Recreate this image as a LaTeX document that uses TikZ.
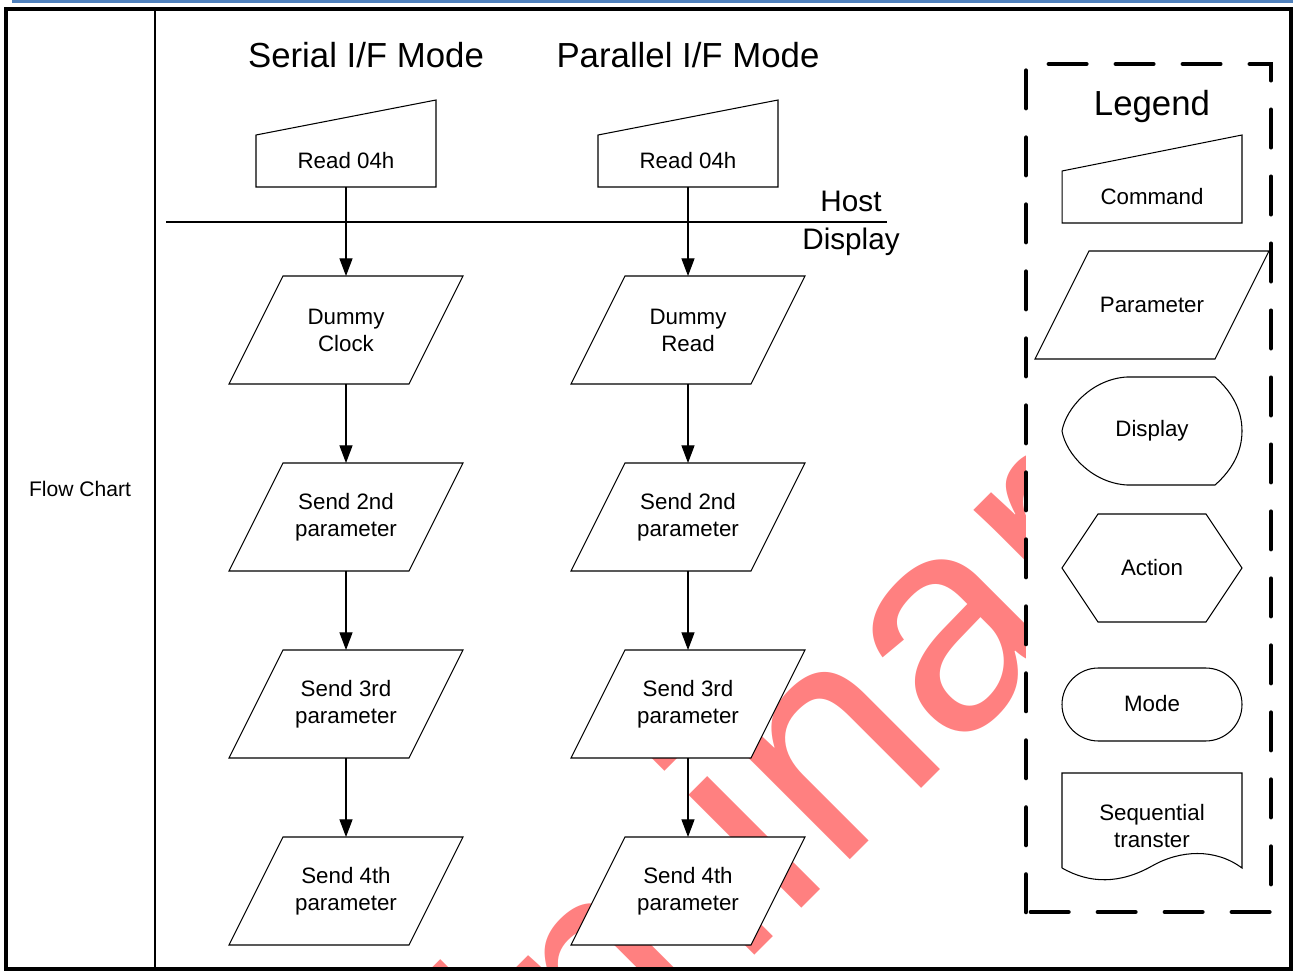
\documentclass[tikz,border=0pt]{standalone}
\usepackage{fontspec}
\setmainfont{Liberation Sans}
\usetikzlibrary{arrows.meta,backgrounds}

\definecolor{topblue}{RGB}{79,129,189}
\definecolor{markpink}{RGB}{255,128,128}

\newcommand{\boxfont}{\fontsize{12.7}{15.3}\selectfont}
\newcommand{\titlefont}{\fontsize{19.8}{24}\selectfont}
\newcommand{\sidefont}{\fontsize{16.9}{20}\selectfont}
\newcommand{\markfont}{\fontsize{172}{172}\selectfont}

\begin{document}
\begin{tikzpicture}[x=0.02cm,y=-0.02cm,
  thin line/.style={line width=0.6pt},
  parbox/.style={minimum width=3.6cm, minimum height=2.16cm,
    inner sep=0pt, outer sep=0pt, align=center, font=\boxfont},
  cmdbox/.style={minimum width=3.6cm, minimum height=1.04cm,
    inner sep=0pt, outer sep=0pt, font=\boxfont},
  flow/.style={thin line, -{Triangle[length=10pt,width=7.4pt]}},
  legendbox/.style={line width=2.6pt, line cap=round, fill=white,
    dash pattern=on 0.75cm off 0.59cm}]

\useasboundingbox (0,0) rectangle (1295,972);

% watermark behind everything
\begin{scope}[on background layer]
\clip (155,9) rectangle (1291,969);
\node[text=markpink, font=\markfont, rotate=45, anchor=base west,
  inner sep=0pt] (mark) at (182,1528) {Preliminary};
\end{scope}

% page frame
\draw[line width=1.7pt, topblue] (12,1.5) -- (1293,1.5);
\draw[line width=2.2pt] (6,9) rectangle (1291,969);
\draw[line width=1.1pt] (155,9) -- (155,969);

\node[font=\fontsize{12}{14}\selectfont] (side) at (80,489) {Flow Chart};

% titles
\node[font=\titlefont] (sertitle) at (366,55) {Serial I/F Mode};
\node[font=\titlefont] (partitle) at (688,55) {Parallel I/F Mode};

% Host / Display border
\draw[thin line] (166,222) -- (887,222);
\node[font=\sidefont] (host) at (851,201) {Host};
\node[font=\sidefont] (disp) at (851,242) {Display};

% Serial column
\node[cmdbox] (s0) at (346,161) {Read 04h};
\node[parbox] (s1) at (346,330) {Dummy\\Clock};
\node[parbox] (s2) at (346,517) {Send 2nd\\parameter};
\node[parbox] (s3) at (346,704) {Send 3rd\\parameter};
\node[parbox] (s4) at (346,891) {Send 4th\\parameter};

\draw[flow] (s0) -- (s1);
\draw[flow] (s1) -- (s2);
\draw[flow] (s2) -- (s3);
\draw[flow] (s3) -- (s4);

% Parallel column
\node[cmdbox] (p0) at (688,161) {Read 04h};
\node[parbox] (p1) at (688,330) {Dummy\\Read};
\node[parbox] (p2) at (688,517) {Send 2nd\\parameter};
\node[parbox] (p3) at (688,704) {Send 3rd\\parameter};
\node[parbox] (p4) at (688,891) {Send 4th\\parameter};

\draw[flow] (p0) -- (p1);
\draw[flow] (p1) -- (p2);
\draw[flow] (p2) -- (p3);
\draw[flow] (p3) -- (p4);

% Legend
\draw[legendbox] (1026,912) -- (1026,64) -- (1271,64) -- (1271,912) -- cycle;
\node[font=\titlefont] (legtitle) at (1152,107) {Legend};

\node[cmdbox] (lcmd) at (1152,197) {Command};
\node[parbox] (lpar) at (1152,305) {Parameter};
\draw[thin line] ([xshift=-0.54cm]lpar.south west)
  -- ([xshift=0.54cm]lpar.north west) -- ([xshift=0.54cm]lpar.north east)
  -- ([xshift=-0.54cm]lpar.south east) -- cycle;

\draw[thin line] (1215,377) -- (1127,377)
  .. controls (1092,379) and (1066,408) .. (1062,431)
  .. controls (1066,454) and (1092,483) .. (1127,485)
  -- (1215,485)
  .. controls (1232,470) and (1242,452) .. (1242,431)
  .. controls (1242,410) and (1232,392) .. (1215,377);
\node[font=\boxfont] (ldisp) at (1152,431) {Display};

\draw[thin line] (1062,568) -- (1098,514) -- (1206,514) -- (1242,568)
  -- (1206,622) -- (1098,622) -- cycle;
\node[font=\boxfont] (lact) at (1152,568) {Action};

\draw[thin line, rounded corners=0.73cm] (1062,668) rectangle (1242,741);
\node[font=\boxfont] (lmode) at (1152,704) {Mode};

\draw[thin line] (1062,868) -- (1062,773) -- (1242,773) -- (1242,868)
  .. controls (1215,848) and (1180,850) .. (1152,866)
  .. controls (1120,884) and (1090,884) .. (1062,868);
\node[font=\boxfont, align=center] (lseq) at (1152,826) {Sequential\\transter};

% command outlines
\foreach \c/\rise in {s0/0.7cm, p0/0.7cm, lcmd/0.72cm}
  \draw[thin line] (\c.south west) -- (\c.north west)
    -- ([yshift=\rise]\c.north east) -- (\c.south east) -- cycle;

% parameter outlines, under the text
\begin{scope}[on background layer]
\foreach \p in {s1,s2,s3,s4,p1,p2,p3,p4}
  \draw[thin line, fill=white] ([xshift=-0.54cm]\p.south west)
    -- ([xshift=0.54cm]\p.north west) -- ([xshift=0.54cm]\p.north east)
    -- ([xshift=-0.54cm]\p.south east) -- cycle;
\end{scope}

\end{tikzpicture}
\end{document}
